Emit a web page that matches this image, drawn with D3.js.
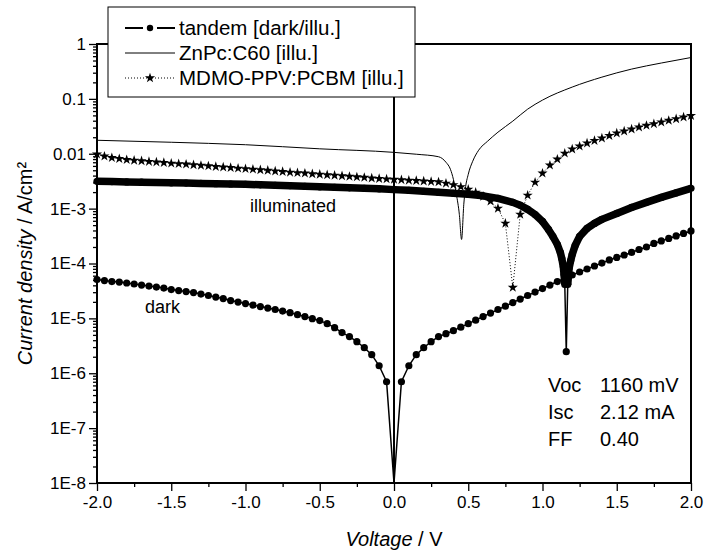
<!DOCTYPE html>
<html>
<head>
<meta charset="utf-8">
<script src="https://cdn.jsdelivr.net/npm/d3@7"></script>
<style>
  body { margin: 0; background: #fff; }
  text { font-family: "Liberation Sans", Arial, sans-serif; fill: #000; }
</style>
</head>
<body>
<div id="chart"></div>
<script>
// ---- data ----
// voltage grid used by the dark tandem curve and the MDMO-PPV:PCBM curve (0.05 V steps)
var gridV = d3.range(81).map(function (i) { return +(-2 + i * 0.05).toFixed(2); });

var darkJ = [
  5.10e-5, 4.89e-5, 4.69e-5, 4.59e-5, 4.41e-5, 4.23e-5, 4.05e-5, 3.88e-5, 3.72e-5, 3.57e-5,
  3.35e-5, 3.21e-5, 3.08e-5, 2.95e-5, 2.77e-5, 2.61e-5, 2.44e-5, 2.30e-5, 2.11e-5, 1.98e-5,
  1.86e-5, 1.75e-5, 1.64e-5, 1.54e-5, 1.45e-5, 1.36e-5, 1.27e-5, 1.17e-5, 1.08e-5, 9.89e-6,
  9.10e-6, 8.02e-6, 6.78e-6, 5.50e-6, 4.65e-6, 3.76e-6, 2.92e-6, 2.18e-6, 1.37e-6, 7.0e-7,
  1.0e-8,
  7.0e-7, 1.37e-6, 2.18e-6, 2.92e-6, 3.76e-6, 4.65e-6, 5.26e-6, 5.97e-6, 6.92e-6, 8.02e-6,
  9.29e-6, 1.08e-5, 1.25e-5, 1.45e-5, 1.67e-5, 1.94e-5, 2.25e-5, 2.61e-5, 3.01e-5, 3.49e-5,
  4.05e-5, 4.69e-5, 5.32e-5, 6.17e-5, 7.0e-5, 7.94e-5, 9.0e-5, 1.02e-4, 1.16e-4, 1.29e-4,
  1.43e-4, 1.59e-4, 1.80e-4, 2.0e-4, 2.32e-4, 2.58e-4, 2.86e-4, 3.18e-4, 3.53e-4, 3.92e-4
];

var mdmoJ = [
  9.79e-3, 9.0e-3, 8.45e-3, 8.11e-3, 7.77e-3, 7.58e-3, 7.39e-3, 7.2e-3, 7.05e-3, 6.88e-3,
  6.7e-3, 6.56e-3, 6.43e-3, 6.27e-3, 6.11e-3, 5.98e-3, 5.83e-3, 5.71e-3, 5.57e-3, 5.43e-3,
  5.32e-3, 5.21e-3, 5.08e-3, 4.96e-3, 4.83e-3, 4.71e-3, 4.59e-3, 4.5e-3, 4.41e-3, 4.3e-3,
  4.21e-3, 4.12e-3, 4.03e-3, 3.95e-3, 3.85e-3, 3.77e-3, 3.69e-3, 3.6e-3, 3.52e-3, 3.46e-3,
  3.41e-3,
  3.35e-3, 3.28e-3, 3.23e-3, 3.17e-3, 3.11e-3, 3.06e-3, 2.89e-3, 2.72e-3, 2.5e-3, 2.25e-3,
  1.98e-3, 1.67e-3, 1.36e-3, 1.01e-3, 5.38e-4, 3.65e-5, 7.86e-4, 1.75e-3, 3.02e-3, 4.41e-3,
  6.17e-3, 7.94e-3, 1.02e-2, 1.21e-2, 1.37e-2, 1.56e-2, 1.73e-2, 1.92e-2, 2.13e-2, 2.37e-2,
  2.58e-2, 2.8e-2, 3.05e-2, 3.27e-2, 3.51e-2, 3.76e-2, 4.04e-2, 4.32e-2, 4.65e-2, 4.94e-2
];

// tandem illuminated (dense measurement, finer near Voc)
var illuV = [
  -2.0, -1.9, -1.8, -1.7, -1.6, -1.5, -1.4, -1.3, -1.2, -1.1, -1.0, -0.9, -0.8, -0.7, -0.6,
  -0.5, -0.4, -0.3, -0.2, -0.1, 0.0, 0.1, 0.2, 0.3, 0.4, 0.5, 0.6, 0.7, 0.8, 0.85, 0.9, 0.95,
  1.0, 1.04, 1.07, 1.1, 1.12, 1.13, 1.14, 1.145, 1.15, 1.16, 1.17, 1.175, 1.18, 1.19, 1.2,
  1.22, 1.25, 1.3, 1.35, 1.4, 1.5, 1.6, 1.7, 1.8, 1.9, 2.0
];
var illuJ = [
  3.15e-3, 3.11e-3, 3.07e-3, 3.03e-3, 2.99e-3, 2.95e-3, 2.92e-3, 2.88e-3, 2.84e-3, 2.81e-3,
  2.77e-3, 2.72e-3, 2.66e-3, 2.61e-3, 2.55e-3, 2.50e-3, 2.45e-3, 2.39e-3, 2.34e-3, 2.30e-3,
  2.22e-3, 2.16e-3, 2.07e-3, 1.98e-3, 1.90e-3, 1.82e-3, 1.71e-3, 1.54e-3, 1.30e-3, 1.15e-3,
  9.7e-4, 7.8e-4, 5.85e-4, 4.18e-4, 3.11e-4, 2.22e-4, 1.59e-4, 1.23e-4, 8.8e-5, 6.3e-5,
  4.13e-5, 2.47e-6, 4.13e-5, 6.04e-5, 8.45e-5, 1.13e-4, 1.46e-4, 2.13e-4, 3.11e-4, 4.36e-4,
  5.38e-4, 6.37e-4, 8.18e-4, 1.05e-3, 1.30e-3, 1.60e-3, 1.94e-3, 2.34e-3
];

// ZnPc:C60 single cell, illuminated
var znpcV = [
  -2.0, -1.5, -1.0, -0.5, 0.0, 0.15, 0.3, 0.35, 0.38, 0.4, 0.42, 0.44, 0.455, 0.47, 0.48,
  0.5, 0.53, 0.57, 0.63, 0.7, 0.8, 0.9, 1.0, 1.2, 1.4, 1.6, 1.8, 2.0
];
var znpcJ = [
  1.76e-2, 1.62e-2, 1.46e-2, 1.23e-2, 1.06e-2, 9.8e-3, 8.82e-3, 7.0e-3, 5.21e-3, 3.42e-3,
  1.82e-3, 7.86e-4, 2.74e-4, 1.20e-3, 2.25e-3, 4.22e-3, 7.3e-3, 1.16e-2, 1.69e-2, 2.47e-2,
  3.93e-2, 6.5e-2, 9.5e-2, 0.164, 0.249, 0.349, 0.450, 0.567
];

var xTicks = [-2, -1.5, -1, -0.5, 0, 0.5, 1, 1.5, 2];
var yTicks = [1e-8, 1e-7, 1e-6, 1e-5, 1e-4, 1e-3, 1e-2, 1e-1, 1];
var yTickLabels = ["1E-8", "1E-7", "1E-6", "1E-5", "1E-4", "1E-3", "0.01", "0.1", "1"];

var legendLabels = ["tandem [dark/illu.]", "ZnPc:C60 [illu.]", "MDMO-PPV:PCBM [illu.]"];
var cellParams = [["Voc", "1160 mV"], ["Isc", "2.12 mA"], ["FF", "0.40"]];

// ---- layout ----
var W = 704, H = 552;
var plotL = 97, plotR = 691, plotT = 44, plotB = 483;

var svg = d3.select("#chart").append("svg")
	.attr("width", W)
	.attr("height", H);

var x = d3.scaleLinear().domain([-2, 2]).range([plotL, plotR]);
var y = d3.scaleLog().domain([1e-8, 1]).range([plotB, plotT]);

function zip(vs, js) {
	return vs.map(function (v, i) { return { v: v, j: js[i] }; });
}
var darkPts = zip(gridV, darkJ);
var mdmoPts = zip(gridV, mdmoJ);
var illuPts = zip(illuV, illuJ);
var znpcPts = zip(znpcV, znpcJ);

var line = d3.line()
	.x(function (d) { return x(d.v); })
	.y(function (d) { return y(d.j); });

// ---- axes ----
var minorY = [];
for (var e = -8; e < 0; e++) {
	for (var k = 2; k <= 9; k++) minorY.push(k * Math.pow(10, e));
}
var minorX = [-1.75, -1.25, -0.75, -0.25, 0.25, 0.75, 1.25, 1.75];

var gyMinor = svg.append("g").attr("transform", "translate(" + plotL + ",0)")
	.call(d3.axisLeft(y).tickValues(minorY).tickSize(4).tickFormat(""));
var gy = svg.append("g").attr("transform", "translate(" + plotL + ",0)")
	.call(d3.axisLeft(y).tickValues(yTicks).tickSize(8).tickPadding(3)
		.tickFormat(function (d, i) { return yTickLabels[i]; }));

var gxMinor = svg.append("g").attr("transform", "translate(0," + plotB + ")")
	.call(d3.axisBottom(x).tickValues(minorX).tickSize(4).tickFormat(""));
var gx = svg.append("g").attr("transform", "translate(0," + plotB + ")")
	.call(d3.axisBottom(x).tickValues(xTicks).tickSize(8).tickPadding(5)
		.tickFormat(function (d) { return d.toFixed(1); }));

[gyMinor, gy, gxMinor, gx].forEach(function (g) {
	g.select(".domain").remove();
	g.selectAll(".tick line").attr("stroke", "#000").attr("stroke-width", 1.3);
	g.selectAll(".tick text").style("font-size", "17px").attr("fill", "#000");
});

// axis titles
var yTitle = svg.append("text")
	.attr("transform", "translate(32," + ((plotT + plotB) / 2) + ") rotate(-90)")
	.attr("text-anchor", "middle")
	.style("font-size", "20px");
yTitle.append("tspan").style("font-style", "italic").text("Current density");
yTitle.append("tspan").text(" / A/cm\u00B2");

var xTitle = svg.append("text")
	.attr("x", (plotL + plotR) / 2)
	.attr("y", 546)
	.attr("text-anchor", "middle")
	.style("font-size", "20px");
xTitle.append("tspan").style("font-style", "italic").text("Voltage");
xTitle.append("tspan").text(" / V");

// zero-voltage line
svg.append("line")
	.attr("x1", x(0)).attr("x2", x(0))
	.attr("y1", plotT).attr("y2", plotB)
	.attr("stroke", "#000").attr("stroke-width", 2);

// ---- ZnPc:C60 ----
svg.append("path")
	.datum(znpcPts)
	.attr("d", line.curve(d3.curveMonotoneX))
	.attr("fill", "none")
	.attr("stroke", "#000")
	.attr("stroke-width", 1);
line.curve(d3.curveLinear);

// ---- MDMO-PPV:PCBM ----
var star = d3.symbol().type(d3.symbolStar).size(32);
svg.append("path")
	.datum(mdmoPts)
	.attr("d", line)
	.attr("fill", "none")
	.attr("stroke", "#000")
	.attr("stroke-width", 1)
	.attr("stroke-dasharray", "1,2");
svg.append("g").selectAll("path")
	.data(mdmoPts)
	.enter().append("path")
	.attr("d", star)
	.attr("transform", function (d) { return "translate(" + x(d.v) + "," + y(d.j) + ")"; })
	.attr("fill", "#000");

// ---- tandem dark ----
svg.append("path")
	.datum(darkPts)
	.attr("d", line)
	.attr("fill", "none")
	.attr("stroke", "#000")
	.attr("stroke-width", 1.5);
svg.append("g").selectAll("circle")
	.data(darkPts.filter(function (d) { return d.j > 1e-8; }))
	.enter().append("circle")
	.attr("cx", function (d) { return x(d.v); })
	.attr("cy", function (d) { return y(d.j); })
	.attr("r", 3.6)
	.attr("fill", "#000");

// ---- tandem illuminated (dense markers make a thick band) ----
var bandLine = d3.line()
	.defined(function (d) { return d.j > 1e-5; })
	.x(function (d) { return x(d.v); })
	.y(function (d) { return y(d.j); });
svg.append("path")
	.datum(illuPts)
	.attr("d", bandLine)
	.attr("fill", "none")
	.attr("stroke", "#000")
	.attr("stroke-width", 7.5)
	.attr("stroke-linejoin", "round");
svg.append("path")
	.datum(illuPts)
	.attr("d", line)
	.attr("fill", "none")
	.attr("stroke", "#000")
	.attr("stroke-width", 1.5);
svg.append("g").selectAll("circle")
	.data(illuPts)
	.enter().append("circle")
	.attr("cx", function (d) { return x(d.v); })
	.attr("cy", function (d) { return y(d.j); })
	.attr("r", 3.6)
	.attr("fill", "#000");

// frame
svg.append("rect")
	.attr("x", plotL).attr("y", plotT)
	.attr("width", plotR - plotL).attr("height", plotB - plotT)
	.attr("fill", "none")
	.attr("stroke", "#000")
	.attr("stroke-width", 2);

// curve labels
svg.append("text").attr("x", 250).attr("y", 212).style("font-size", "18px").text("illuminated");
svg.append("text").attr("x", 145).attr("y", 313).style("font-size", "18px").text("dark");

// cell parameters
var params = svg.append("g").style("font-size", "20px");
cellParams.forEach(function (p, i) {
	params.append("text").attr("x", 548).attr("y", 392 + i * 27).text(p[0]);
	params.append("text").attr("x", 600).attr("y", 392 + i * 27).text(p[1]);
});

// ---- legend ----
var lg = svg.append("g");
lg.append("rect")
	.attr("x", 108).attr("y", 7)
	.attr("width", 307).attr("height", 90)
	.attr("fill", "#fff")
	.attr("stroke", "#000")
	.attr("stroke-width", 1);

var rowY = [28, 53, 78];
// tandem
lg.append("line").attr("x1", 125).attr("x2", 143).attr("y1", rowY[0]).attr("y2", rowY[0])
	.attr("stroke", "#000").attr("stroke-width", 2);
lg.append("line").attr("x1", 157).attr("x2", 175).attr("y1", rowY[0]).attr("y2", rowY[0])
	.attr("stroke", "#000").attr("stroke-width", 2);
lg.append("circle").attr("cx", 150).attr("cy", rowY[0]).attr("r", 3.2).attr("fill", "#000");
// ZnPc
lg.append("line").attr("x1", 125).attr("x2", 175).attr("y1", rowY[1]).attr("y2", rowY[1])
	.attr("stroke", "#000").attr("stroke-width", 1);
// MDMO
lg.append("line").attr("x1", 125).attr("x2", 175).attr("y1", rowY[2]).attr("y2", rowY[2])
	.attr("stroke", "#000").attr("stroke-width", 1).attr("stroke-dasharray", "1,2");
lg.append("path").attr("d", star).attr("transform", "translate(150," + rowY[2] + ")").attr("fill", "#000");

legendLabels.forEach(function (t, i) {
	lg.append("text")
		.attr("x", 179)
		.attr("y", rowY[i] + 7)
		.style("font-size", "20.5px")
		.text(t);
});
</script>
</body>
</html>
